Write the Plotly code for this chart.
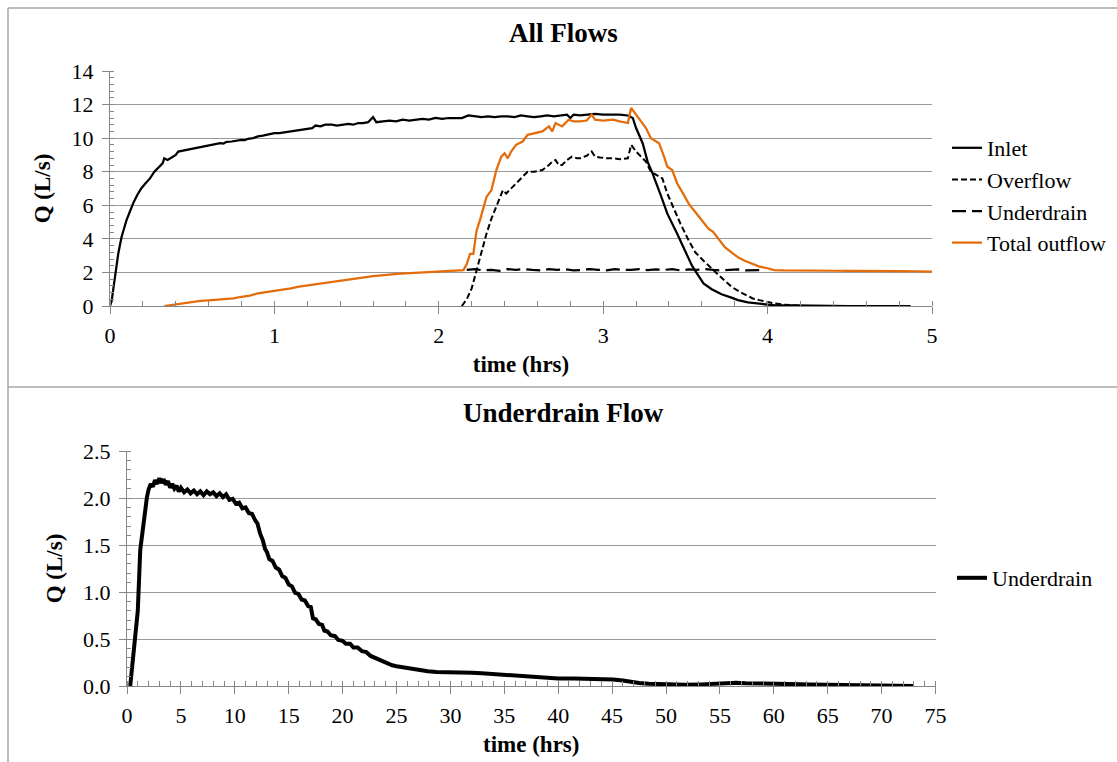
import plotly.graph_objects as go

# ---------------- data: top chart "All Flows" ----------------
inlet_t = [0.00, 0.01, 0.02, 0.03, 0.04, 0.05, 0.06, 0.07, 0.085, 0.10, 0.12, 0.14, 0.165, 0.19, 0.215,
           0.243, 0.27, 0.30, 0.32, 0.33, 0.35, 0.375, 0.40, 0.415, 0.44, 0.466, 0.49, 0.507, 0.54, 0.568,
           0.60, 0.628, 0.65, 0.67, 0.69, 0.71, 0.74, 0.77, 0.80, 0.82, 0.84, 0.87, 0.90, 0.93, 0.96,
           1.00, 1.03, 1.06, 1.10, 1.13, 1.16, 1.20, 1.23, 1.25, 1.28, 1.31, 1.35, 1.38, 1.42, 1.45,
           1.48, 1.51, 1.54, 1.57, 1.60, 1.62, 1.66, 1.70, 1.74, 1.78, 1.82, 1.86, 1.90, 1.94, 1.98,
           2.02, 2.06, 2.10, 2.14, 2.18, 2.22, 2.26, 2.30, 2.34, 2.38, 2.42, 2.46, 2.50, 2.54, 2.58,
           2.62, 2.66, 2.70, 2.74, 2.78, 2.80, 2.82, 2.86, 2.90, 2.95, 3.00, 3.05, 3.10, 3.15, 3.18,
           3.20, 3.24, 3.27, 3.30, 3.35, 3.39, 3.45, 3.50, 3.54, 3.58, 3.61, 3.66, 3.72, 3.78, 3.82,
           3.88, 3.93, 4.00, 4.04, 4.15, 4.30, 4.50, 4.87]
inlet_q = [0.0, 0.3, 1.0, 1.75, 2.5, 3.1, 3.6, 4.1, 4.6, 5.1, 5.6, 6.1, 6.6, 7.0, 7.3,
           7.6, 8.0, 8.3, 8.5, 8.8, 8.7, 8.85, 9.0, 9.2, 9.25, 9.3, 9.35, 9.4, 9.45, 9.5,
           9.55, 9.6, 9.65, 9.7, 9.68, 9.78, 9.8, 9.85, 9.9, 9.88, 9.96, 10.0, 10.1, 10.15, 10.2,
           10.3, 10.3, 10.35, 10.4, 10.45, 10.5, 10.55, 10.6, 10.75, 10.7, 10.8, 10.8, 10.75, 10.8, 10.85,
           10.8, 10.9, 10.9, 10.95, 11.25, 10.95, 11.0, 11.05, 11.0, 11.1, 11.05, 11.1, 11.15, 11.1, 11.2,
           11.15, 11.2, 11.2, 11.2, 11.35, 11.3, 11.25, 11.3, 11.25, 11.3, 11.3, 11.25, 11.35, 11.3, 11.25,
           11.3, 11.35, 11.3, 11.35, 11.4, 11.2, 11.4, 11.35, 11.4, 11.45, 11.4, 11.4, 11.4, 11.35, 11.2,
           10.6, 9.7, 8.6, 7.9, 6.6, 5.5, 4.3, 3.2, 2.4, 1.8, 1.35, 1.0, 0.7, 0.5, 0.35,
           0.22, 0.15, 0.08, 0.05, 0.03, 0.01, 0.0, 0.0]

overflow_t = [2.14, 2.17, 2.20, 2.23, 2.26, 2.29, 2.32, 2.35, 2.39, 2.41, 2.45, 2.49, 2.54, 2.58, 2.63,
              2.67, 2.69, 2.71, 2.73, 2.75, 2.78, 2.81, 2.84, 2.86, 2.90, 2.93, 2.95, 2.98, 3.02, 3.06,
              3.10, 3.15, 3.17, 3.20, 3.23, 3.26, 3.29, 3.31, 3.34, 3.36, 3.39, 3.43, 3.47, 3.52, 3.56,
              3.61, 3.65, 3.69, 3.74, 3.78, 3.83, 3.87, 3.91, 3.95, 4.00, 4.04, 4.10, 4.15, 4.22]
overflow_q = [0.0, 0.4, 1.05, 2.1, 3.3, 4.3, 5.2, 5.9, 6.9, 6.7, 7.1, 7.5, 8.0, 8.0, 8.1,
              8.4, 8.6, 8.7, 8.4, 8.4, 8.7, 8.9, 8.8, 8.8, 8.95, 9.2, 8.9, 8.85, 8.8, 8.8,
              8.75, 8.8, 9.6, 9.2, 8.9, 8.6, 8.0, 7.9, 7.7, 7.6, 6.7, 5.8, 4.9, 3.9, 3.2,
              2.7, 2.3, 1.95, 1.5, 1.15, 0.85, 0.65, 0.45, 0.35, 0.22, 0.15, 0.08, 0.04, 0.0]

under_t = [2.17, 2.22, 2.27, 2.32, 2.37, 2.42, 2.47, 2.52, 2.57, 2.62, 2.67, 2.72, 2.77, 2.82, 2.87,
           2.92, 2.97, 3.02, 3.07, 3.12, 3.17, 3.22, 3.27, 3.32, 3.37, 3.42, 3.47, 3.52, 3.57, 3.62,
           3.67, 3.72, 3.77, 3.82, 3.87, 3.92, 3.98]
under_q = [2.15, 2.2, 2.12, 2.15, 2.1, 2.2, 2.15, 2.2, 2.15, 2.12, 2.2, 2.15, 2.18, 2.12, 2.15,
           2.2, 2.15, 2.13, 2.2, 2.15, 2.15, 2.2, 2.14, 2.18, 2.15, 2.2, 2.12, 2.18, 2.15, 2.2,
           2.15, 2.12, 2.15, 2.18, 2.12, 2.15, 2.15]

total_t = [0.33, 0.40, 0.45, 0.50, 0.55, 0.60, 0.65, 0.70, 0.75, 0.80, 0.85, 0.90, 0.95, 1.00, 1.05,
           1.10, 1.15, 1.20, 1.25, 1.30, 1.35, 1.40, 1.45, 1.50, 1.55, 1.60, 1.65, 1.70, 1.75, 1.80,
           1.85, 1.90, 1.95, 2.00, 2.05, 2.10, 2.15, 2.17, 2.19, 2.21, 2.23, 2.25, 2.27, 2.29, 2.32,
           2.35, 2.38, 2.40, 2.42, 2.44, 2.47, 2.51, 2.54, 2.59, 2.63, 2.67, 2.69, 2.71, 2.75, 2.79,
           2.82, 2.86, 2.90, 2.93, 2.95, 3.00, 3.06, 3.10, 3.15, 3.17, 3.20, 3.23, 3.26, 3.29, 3.31,
           3.34, 3.37, 3.39, 3.42, 3.45, 3.48, 3.52, 3.56, 3.61, 3.64, 3.67, 3.70, 3.74, 3.78, 3.82,
           3.86, 3.91, 3.95, 4.00, 4.04, 4.10, 4.20, 4.30, 4.40, 4.50, 4.60, 4.70, 4.80, 4.90, 5.00]
total_q = [0.0, 0.1, 0.15, 0.22, 0.3, 0.33, 0.38, 0.42, 0.45, 0.55, 0.62, 0.75, 0.82, 0.9, 1.0,
           1.05, 1.15, 1.22, 1.3, 1.38, 1.45, 1.52, 1.58, 1.65, 1.72, 1.78, 1.82, 1.88, 1.92, 1.95,
           1.98, 2.0, 2.05, 2.08, 2.1, 2.12, 2.14, 2.5, 3.1, 3.1, 4.5, 5.1, 5.8, 6.5, 6.9,
           8.1, 8.9, 9.1, 8.8, 9.2, 9.6, 9.8, 10.2, 10.3, 10.4, 10.7, 10.4, 10.9, 10.7, 11.1,
           11.0, 11.0, 11.05, 11.4, 11.1, 11.05, 11.1, 11.0, 10.9, 11.8, 11.4, 11.0, 10.6, 10.0, 9.9,
           9.7, 8.9, 8.3, 8.1, 7.3, 6.8, 6.1, 5.6, 5.0, 4.6, 4.4, 4.0, 3.5, 3.2, 2.9,
           2.7, 2.5, 2.35, 2.25, 2.14, 2.12, 2.1, 2.12, 2.1, 2.1, 2.08, 2.1, 2.08, 2.07, 2.05]

# ---------------- data: bottom chart "Underdrain Flow" ----------------
ud_t = [0.30, 0.77, 1.00, 1.23, 1.54, 1.85, 2.0, 2.2, 2.4, 2.6, 2.8, 3.0, 3.2, 3.4, 3.6,
        3.8, 4.0, 4.2, 4.4, 4.6, 4.8, 5.0, 5.3, 5.6, 5.9, 6.2, 6.5, 6.8, 7.1, 7.4,
        7.7, 8.0, 8.3, 8.6, 8.9, 9.2, 9.5, 9.8, 10.1, 10.4, 10.7, 11.0, 11.3, 11.6, 11.9,
        12.1, 12.35, 12.6, 12.8, 13.0, 13.2, 13.5, 13.8, 14.1, 14.4, 14.7, 15.0, 15.3, 15.6, 15.9,
        16.2, 16.5, 16.8, 17.05, 17.25, 17.5, 17.8, 18.1, 18.3, 18.6, 18.9, 19.3, 19.6, 20.0, 20.3,
        20.7, 21.0, 21.4, 21.8, 22.2, 22.6, 23.0, 23.4, 23.8, 24.2, 24.6, 25.0, 25.5, 26.3, 27.1,
        27.9, 28.7, 29.5, 30.3, 31.2, 32.0, 32.9, 33.8, 34.6, 35.4, 36.2, 37.0, 37.9, 39.0, 40.0,
        41.5, 43.4, 44.5, 45.1, 46.0, 46.7, 47.5, 48.4, 50.0, 51.7, 53.3, 54.3, 55.4, 56.5, 57.4,
        58.5, 60.0, 61.5, 63.3, 65.0, 66.6, 68.0, 69.9, 71.5, 73.0]
ud_q = [0.0, 0.49, 0.8, 1.45, 1.77, 2.01, 2.09, 2.15, 2.12, 2.19, 2.15, 2.21, 2.16, 2.2, 2.14,
        2.18, 2.11, 2.15, 2.1, 2.13, 2.07, 2.11, 2.06, 2.09, 2.05, 2.08, 2.04, 2.07, 2.03, 2.07,
        2.04, 2.06, 2.02, 2.05, 2.01, 2.04, 1.98, 1.99, 1.94, 1.95, 1.89, 1.9, 1.84, 1.83, 1.76,
        1.73, 1.62, 1.55, 1.46, 1.42, 1.35, 1.33, 1.26, 1.24, 1.17, 1.15, 1.08, 1.06, 0.99, 0.98,
        0.92, 0.91, 0.85, 0.84, 0.72, 0.71, 0.66, 0.65, 0.59, 0.58, 0.54, 0.53, 0.49, 0.48, 0.45,
        0.45, 0.41, 0.41, 0.37, 0.36, 0.32, 0.3, 0.27, 0.26, 0.23, 0.22, 0.21, 0.2, 0.185, 0.17,
        0.158, 0.15, 0.145, 0.142, 0.145, 0.14, 0.135, 0.128, 0.12, 0.112, 0.105, 0.098, 0.09, 0.085, 0.08,
        0.08, 0.078, 0.075, 0.07, 0.058, 0.045, 0.033, 0.025, 0.017, 0.012, 0.017, 0.025, 0.035, 0.035, 0.03,
        0.03, 0.025, 0.02, 0.015, 0.012, 0.01, 0.008, 0.005, 0.004, 0.0]

top_xticks = [0, 1, 2, 3, 4, 5]
top_yticks = [0, 2, 4, 6, 8, 10, 12, 14]
bot_xticks = list(range(0, 76, 5))
bot_yticks = [0.0, 0.5, 1.0, 1.5, 2.0, 2.5]

# ---------------- figure ----------------
W, H = 1117, 762
FONT = "Liberation Serif, Times New Roman, serif"
GRID = "#9a9a9a"
AXIS = "#868686"
ORANGE = "#E46C0A"


def px_x(p):
    return p / W


def px_y(p):
    return 1 - p / H


fig = go.Figure()

fig.add_trace(go.Scatter(x=inlet_t, y=inlet_q, name="Inlet", mode="lines",
                         line=dict(color="black", width=2.25),
                         xaxis="x", yaxis="y", legend="legend", legendgroup="a"))
fig.add_trace(go.Scatter(x=overflow_t, y=overflow_q, name="Overflow", mode="lines",
                         line=dict(color="black", width=2, dash="6px,3px"),
                         xaxis="x", yaxis="y", legend="legend", legendgroup="b"))
fig.add_trace(go.Scatter(x=under_t, y=under_q, name="Underdrain", mode="lines",
                         line=dict(color="black", width=2.25, dash="14px,6px"),
                         xaxis="x", yaxis="y", legend="legend", legendgroup="c"))
fig.add_trace(go.Scatter(x=total_t, y=total_q, name="Total outflow", mode="lines",
                         line=dict(color=ORANGE, width=2.25),
                         xaxis="x", yaxis="y", legend="legend", legendgroup="d"))
fig.add_trace(go.Scatter(x=ud_t, y=ud_q, name="Underdrain", mode="lines",
                         line=dict(color="black", width=4),
                         xaxis="x2", yaxis="y2", legend="legend2"))

tickfont = dict(family=FONT, size=22, color="black")
titlefont = dict(family=FONT, size=23, color="black")

common_x = dict(showline=True, linecolor=AXIS, linewidth=1, showgrid=False, zeroline=False,
                ticks="outside", ticklen=7, tickcolor=AXIS, tickfont=tickfont,
                ticklabelstandoff=3, automargin=False)
common_y = dict(showline=True, linecolor=AXIS, linewidth=1, showgrid=True, gridcolor=GRID,
                gridwidth=1, zeroline=False, ticks="outside", ticklen=7, tickcolor=AXIS,
                tickfont=tickfont, ticklabelstandoff=4, automargin=False)

fig.update_layout(
    width=W, height=H,
    margin=dict(l=0, r=0, t=0, b=0, autoexpand=False),
    paper_bgcolor="white", plot_bgcolor="white",
    font=dict(family=FONT, color="black"),
    xaxis=dict(domain=[px_x(110), px_x(932)], range=[0, 5], tickvals=top_xticks,
               anchor="y",
               minor=dict(ticks="inside", ticklen=5, dtick=0.2, tickcolor=AXIS, showgrid=False),
               title=dict(text="<b>time (hrs)</b>", font=titlefont, standoff=8),
               **common_x),
    yaxis=dict(domain=[px_y(306), px_y(71)], range=[0, 14], tickvals=top_yticks,
               anchor="x",
               minor=dict(ticks="inside", ticklen=4, dtick=0.4, tickcolor=AXIS, showgrid=False),
               title=dict(text="<b>Q (L/s)</b>", font=titlefont, standoff=14),
               **common_y),
    xaxis2=dict(domain=[px_x(127), px_x(935.5)], range=[0, 75], tickvals=bot_xticks,
                anchor="y2",
                minor=dict(ticks="inside", ticklen=5, dtick=1, tickcolor=AXIS, showgrid=False),
                title=dict(text="<b>time (hrs)</b>", font=titlefont, standoff=8),
                **common_x),
    yaxis2=dict(domain=[px_y(686), px_y(451)], range=[0, 2.5], tickvals=bot_yticks,
                tickformat=".1f", anchor="x2",
                minor=dict(ticks="inside", ticklen=4, dtick=0.1, tickcolor=AXIS, showgrid=False),
                title=dict(text="<b>Q (L/s)</b>", font=titlefont, standoff=14),
                **common_y),
    legend=dict(x=px_x(947), y=px_y(127), xanchor="left", yanchor="top",
                font=dict(family=FONT, size=22, color="black"),
                tracegroupgap=0, itemwidth=30, bgcolor="rgba(0,0,0,0)"),
    legend2=dict(x=px_x(952), y=px_y(557), xanchor="left", yanchor="top",
                 font=dict(family=FONT, size=22, color="black"),
                 itemwidth=30, bgcolor="rgba(0,0,0,0)"),
    showlegend=True,
)

# chart titles
fig.add_annotation(text="<b>All Flows</b>", x=px_x(563), y=px_y(33), xref="paper", yref="paper",
                   showarrow=False, font=dict(family=FONT, size=27, color="black"),
                   xanchor="center", yanchor="middle")
fig.add_annotation(text="<b>Underdrain Flow</b>", x=px_x(563), y=px_y(413), xref="paper", yref="paper",
                   showarrow=False, font=dict(family=FONT, size=27, color="black"),
                   xanchor="center", yanchor="middle")

# chart-area borders
BORDER = "#a6a6a6"
for (x0, y0, x1, y1) in [(8, 8, W, 8), (8, 8, 8, H), (8, 387, W, 387)]:
    fig.add_shape(type="line", xref="paper", yref="paper",
                  x0=px_x(x0), y0=px_y(y0), x1=px_x(x1), y1=px_y(y1),
                  line=dict(color=BORDER, width=1.5))

fig.write_html("out.html")
